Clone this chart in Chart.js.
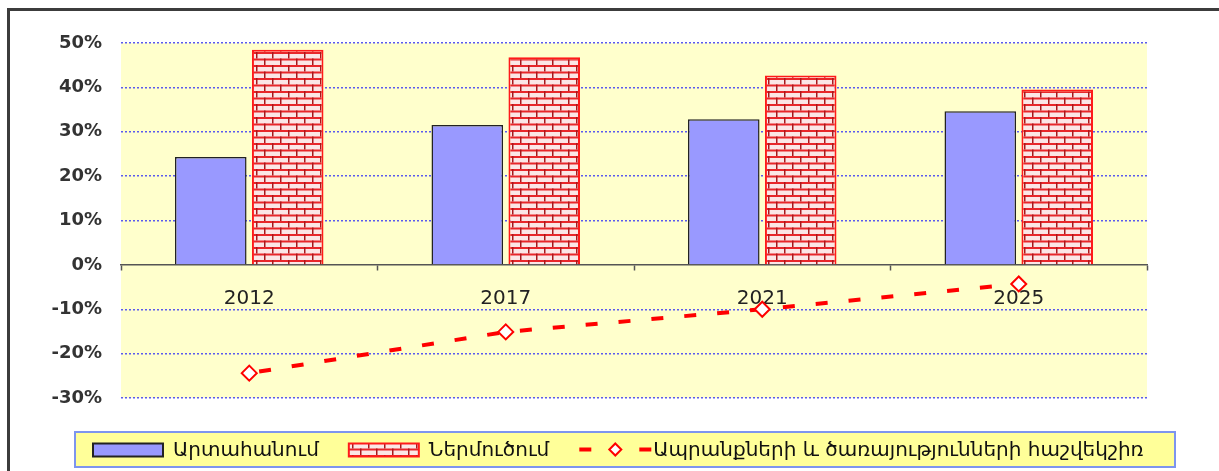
<!DOCTYPE html>
<html>
<head>
<meta charset="utf-8">
<script src="https://cdn.jsdelivr.net/npm/chart.js@4.4.1/dist/chart.umd.min.js"></script>
<style>
  html, body { margin: 0; padding: 0; background: #fff; }
  #wrap { width: 1219px; height: 471px; }
</style>
</head>
<body>
<div id="wrap"><canvas id="tradeChart" width="1219" height="471"></canvas></div>
<script>
// Data (share, %)
const years = ['2012', '2017', '2021', '2025'];
const exportShare = [24.3, 31.5, 32.8, 34.6];
const importShare = [48.5, 46.8, 42.7, 39.5];
const balanceShare = [-24.4, -15.1, -10.0, -4.3];
const seriesNames = ['Արտահանում', 'Ներմուծում', 'Ապրանքների և ծառայությունների հաշվեկշիռ'];
const yMin = -30, yMax = 50, yStep = 10;

// Brick fill like the old Excel pattern
function brickPattern() {
    const c = document.createElement('canvas');
    c.width = 16; c.height = 13;
    const g = c.getContext('2d');
    g.fillStyle = '#fbe6e6';
    g.fillRect(0, 0, 16, 13);
    g.fillStyle = '#e8262a';
    g.fillRect(0, 0, 16, 2);
    g.fillRect(0, 6.5, 16, 2);
    g.fillStyle = '#a8181c';
    g.fillRect(0, 0, 1.5, 6.5);
    g.fillRect(8, 6.5, 1.5, 6.5);
    return g.createPattern(c, 'repeat');
}

const ctx = document.getElementById('tradeChart').getContext('2d');
const bricks = brickPattern();

// frame + yellow plot area
const backdrop = {
    id: 'backdrop',
    beforeDraw(chart) {
        const c = chart.ctx, a = chart.chartArea;
        c.save();
        c.fillStyle = '#ffffcc';
        c.fillRect(a.left, a.top, a.right - a.left, a.bottom - a.top);
        c.strokeStyle = '#3c3c3c';
        c.lineWidth = 3;
        c.beginPath();
        c.moveTo(8.5, 471);
        c.lineTo(8.5, 9.5);
        c.lineTo(1219, 9.5);
        c.stroke();
        c.restore();
    }
};

// legend drawn in a yellow box under the plot
const boxedLegend = {
    id: 'boxedLegend',
    afterDraw(chart) {
        const c = chart.ctx;
        const box = { x: 75, y: 432, w: 1100, h: 35 };
        const cy = box.y + box.h / 2;
        c.save();
        c.fillStyle = '#ffff99';
        c.fillRect(box.x, box.y, box.w, box.h);
        c.strokeStyle = '#7d95ee';
        c.lineWidth = 2;
        c.strokeRect(box.x, box.y, box.w, box.h);

        c.font = '20px "DejaVu Sans"';
        c.textBaseline = 'middle';
        let x = 93;
        chart.data.datasets.forEach(ds => {
            if (ds.type === 'line') {
                c.fillStyle = ds.borderColor;
                c.fillRect(x, cy - 2, 12, 4);
                c.fillRect(x + 60, cy - 2, 12, 4);
                c.beginPath();
                c.moveTo(x + 36, cy - 6);
                c.lineTo(x + 42, cy);
                c.lineTo(x + 36, cy + 6);
                c.lineTo(x + 30, cy);
                c.closePath();
                c.fillStyle = '#fff';
                c.fill();
                c.strokeStyle = ds.borderColor;
                c.lineWidth = 2;
                c.stroke();
                x += 74;
            } else {
                c.fillStyle = ds.backgroundColor;
                c.fillRect(x, cy - 6, 70, 13);
                c.strokeStyle = ds.borderColor;
                c.lineWidth = 2;
                c.strokeRect(x, cy - 6, 70, 13);
                x += 80;
            }
            c.fillStyle = '#111';
            c.fillText(ds.label, x, cy + 1);
            x += c.measureText(ds.label).width + 30;
        });
        c.restore();
    }
};

new Chart(ctx, {
    type: 'bar',
    data: {
        labels: years,
        datasets: [
            {
                label: seriesNames[0],
                data: exportShare,
                backgroundColor: '#9999ff',
                borderColor: '#222',
                borderWidth: 1.5,
                categoryPercentage: 0.6,
                barPercentage: 0.93,
                order: 2
            },
            {
                label: seriesNames[1],
                data: importShare,
                backgroundColor: bricks,
                borderColor: '#ff1a1a',
                borderWidth: 2,
                categoryPercentage: 0.6,
                barPercentage: 0.93,
                order: 2
            },
            {
                type: 'line',
                label: seriesNames[2],
                data: balanceShare,
                borderColor: '#ff0000',
                borderWidth: 4,
                borderDash: [12, 21],
                borderDashOffset: -10,
                fill: false,
                tension: 0,
                pointStyle: 'rectRot',
                pointRadius: 7.5,
                pointBorderWidth: 2,
                pointBackgroundColor: '#ffffff',
                pointBorderColor: '#ff0000',
                order: 1
            }
        ]
    },
    options: {
        responsive: false,
        animation: false,
        layout: { padding: { top: 43, right: 72, bottom: 73, left: 0 } },
        plugins: {
            legend: { display: false },
            tooltip: { enabled: false }
        },
        scales: {
            x: {
                position: { y: 0 },
                grid: {
                    drawOnChartArea: false,
                    offset: true,
                    tickLength: 5,
                    tickColor: '#555',
                    tickWidth: 1.5
                },
                border: { color: '#555', width: 1.5 },
                ticks: {
                    padding: 17,
                    color: '#222',
                    font: { family: 'DejaVu Sans', size: 20 }
                }
            },
            y: {
                min: yMin,
                max: yMax,
                afterFit(scale) { scale.width = 121; },
                ticks: {
                    stepSize: yStep,
                    padding: 19,
                    color: '#333',
                    font: { family: 'DejaVu Sans', size: 18, weight: 'bold' },
                    callback: v => v + '%'
                },
                grid: {
                    drawTicks: false,
                    lineWidth: 1.5,
                    color: c => c.tick.value === 0 ? 'rgba(0,0,0,0)' : '#5a5aee'
                },
                border: { display: false, dash: [2, 2] }
            }
        }
    },
    plugins: [backdrop, boxedLegend]
});
</script>
</body>
</html>
